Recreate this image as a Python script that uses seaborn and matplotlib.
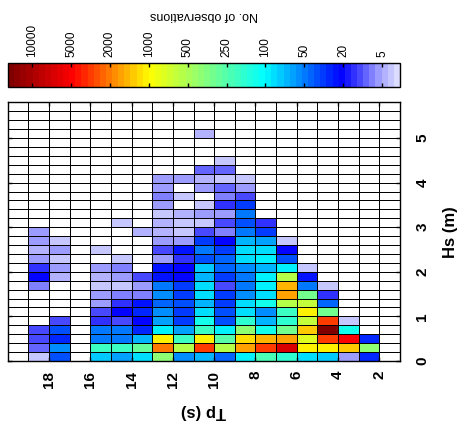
import numpy as np
import pandas as pd
import matplotlib
matplotlib.use("Agg")
import matplotlib.pyplot as plt
import seaborn as sns
from matplotlib.colors import LinearSegmentedColormap

# ---------------- data ----------------
# Tp bins (lower edge, s), left to right as drawn
tp_lower = [19, 18, 17, 16, 15, 14, 13, 12, 11, 10, 9, 8, 7, 6, 5, 4, 3, 2, 1]
# Hs bins (lower edge, m), bottom to top
hs_lower = [0.0, 0.2, 0.4, 0.6, 0.8, 1.0, 1.2, 1.4, 1.6, 1.8, 2.0, 2.2, 2.4, 2.6,
            2.8, 3.0, 3.2, 3.4, 3.6, 3.8, 4.0, 4.2, 4.4, 4.6, 4.8, 5.0, 5.2, 5.4, 5.6]

# number of observations per Tp bin, listed from Hs = 0 upward (missing = 0)
c_tp19 = []
c_tp18 = [4, 8, 10, 10, 0, 0, 0, 0, 7, 20, 14, 6, 5, 6, 6]
c_tp17 = [38, 58, 27, 38, 10, 0, 0, 0, 0, 5, 6, 4, 6, 4]
c_tp16 = []
c_tp15 = [80, 200, 50, 50, 14, 10, 6, 6, 4, 5, 6, 2, 4, 2]
c_tp14 = [63, 200, 50, 50, 10, 20, 14, 7, 4, 6, 7, 4, 2, 0, 2, 4]
c_tp13 = [85, 270, 70, 27, 20, 27, 24, 7, 6, 10, 0, 2, 2, 0, 5, 2]
c_tp12 = [400, 2000, 1000, 100, 63, 56, 42, 56, 50, 24, 24, 6, 10, 6, 5, 5,
          4, 6, 7, 6, 6, 2, 0, 0, 2, 2, 0, 0, 2]
c_tp11 = [56, 550, 200, 63, 34, 30, 38, 34, 34, 20, 20, 14, 24, 6, 4, 4,
          5, 2, 4, 0, 6, 2, 0, 2]
c_tp10 = [70, 3200, 1000, 200, 130, 85, 70, 85, 85, 70, 78, 38, 50, 30, 10, 4,
          6, 4, 2, 6, 5, 8, 2, 2, 0, 5]
c_tp9 = [42, 550, 260, 100, 38, 38, 30, 30, 10, 30, 42, 42, 34, 20, 7, 10,
         6, 14, 7, 8, 4, 8, 4, 2]
c_tp8 = [100, 1700, 1200, 400, 160, 85, 85, 56, 50, 50, 56, 85, 85, 70, 50, 38,
         50, 30, 11, 6, 4]
c_tp7 = [210, 3200, 1450, 130, 70, 56, 130, 85, 100, 100, 70, 100, 85, 63, 30, 14, 2, 2]
c_tp6 = [160, 6500, 1700, 320, 160, 200, 550, 1700, 1450, 520, 100, 38, 20, 4, 2, 2]
c_tp5 = [85, 1000, 750, 1350, 600, 1000, 600, 320, 50, 24, 4]
c_tp4 = [78, 1000, 3300, 14000, 3200, 330, 42, 14, 4]
c_tp3 = [6, 1350, 5000, 130, 4, 2]
c_tp2 = [27, 400, 27]
c_tp1 = []

columns = [c_tp19, c_tp18, c_tp17, c_tp16, c_tp15, c_tp14, c_tp13, c_tp12, c_tp11,
           c_tp10, c_tp9, c_tp8, c_tp7, c_tp6, c_tp5, c_tp4, c_tp3, c_tp2, c_tp1]

cbar_values = [5, 20, 50, 100, 250, 500, 1000, 2000, 5000, 10000]
cbar_labels = ["5", "20", "50", "100", "250", "500", "1000", "2000", "5000", "10000"]
tp_ticks = [18, 16, 14, 12, 10, 8, 6, 4, 2]
hs_ticks = [0, 1, 2, 3, 4, 5]

# ---------------- build table ----------------
n_hs, n_tp = len(hs_lower), len(tp_lower)
counts = np.zeros((n_hs, n_tp))
for j, col in enumerate(columns):
    counts[:len(col), j] = col

lv = np.log(np.array(cbar_values, dtype=float))
levels = np.arange(len(cbar_values), dtype=float)


def to_level(c):
    out = np.full(c.shape, -99.0)
    pos = c > 0
    lc = np.log(c[pos])
    q = np.interp(lc, lv, levels)
    lo = lc < lv[0]
    q[lo] = (lc[lo] - lv[0]) / (lv[1] - lv[0])
    hi = lc > lv[-1]
    q[hi] = levels[-1] + (lc[hi] - lv[-1]) / (lv[-1] - lv[-2])
    out[pos] = q
    return out


q = to_level(counts)
hs_w = hs_lower[1] - hs_lower[0]
df = pd.DataFrame(q[::-1], index=[f"{h:.1f}" for h in hs_lower[::-1]],
                  columns=[str(t) for t in tp_lower])

qmin, qmax = -0.46, 9.62
anchors = [(-0.46, "#dcdcff"), (0.0, "#a0a0ff"), (0.5, "#4848ff"), (1.0, "#0000ff"),
           (2.0, "#0080ff"), (3.0, "#00ffff"), (4.5, "#80ff80"), (6.0, "#ffff00"),
           (7.0, "#ff8000"), (8.0, "#ff0000"), (9.0, "#b00000"), (9.62, "#800000")]
cmap = LinearSegmentedColormap.from_list(
    "obs", [((a - qmin) / (qmax - qmin), c) for a, c in anchors], N=64)
cmap.set_under("white")

# ---------------- figure ----------------
plt.rcParams["font.family"] = ["Liberation Sans", "DejaVu Sans"]
fig = plt.figure(figsize=(4.57, 4.32), dpi=100)
W, H = 457.0, 432.0
ax = fig.add_axes([7.7 / W, 1 - 361.0 / H, 392.3 / W, 258.7 / H])
cax = fig.add_axes([8.0 / W, 1 - 86.7 / H, 392.0 / W, 24.0 / H])

sns.heatmap(df, ax=ax, cbar_ax=cax, cmap=cmap, vmin=qmin, vmax=qmax,
            linewidths=0.55, linecolor="black", xticklabels=False, yticklabels=False,
            cbar_kws={"orientation": "horizontal"})

for s in ax.spines.values():
    s.set_visible(True)
    s.set_linewidth(1.0)
    s.set_color("black")

tp_top = tp_lower[0] + 1
hs_top = hs_lower[-1] + hs_w
ax.set_xticks([tp_top - t for t in tp_ticks])
ax.set_xticklabels([str(t) for t in tp_ticks], rotation=90, fontsize=11,
                   fontweight="bold")
ax.set_yticks([(hs_top - h) / hs_w for h in hs_ticks])
ax.yaxis.tick_right()
ax.set_yticklabels([str(h) for h in hs_ticks], rotation=90, va="center",
                   fontsize=11, fontweight="bold")
ax.tick_params(axis="x", direction="in", length=3, width=1, top=True, bottom=True,
               pad=7)
ax.tick_params(axis="y", direction="in", length=3, width=1, left=True, right=True,
               labelleft=False, labelright=True, pad=11)
ax.set_xlabel("Tp (s)", rotation=180, fontsize=12, fontweight="bold", labelpad=12)
ax.yaxis.set_label_position("right")
ax.set_ylabel("Hs (m)", rotation=90, fontsize=12, fontweight="bold", labelpad=10)

cbar = ax.collections[0].colorbar
cbar.set_ticks(levels)
cbar.set_ticklabels(cbar_labels)
cbar.outline.set_linewidth(1.0)
cbar.outline.set_edgecolor("black")
cax.invert_xaxis()
cax.tick_params(axis="x", direction="in", length=3, width=1, top=True, bottom=True,
                labeltop=True, labelbottom=False, labelrotation=90, labelsize=8.5,
                pad=4)
cax.xaxis.set_label_position("top")
cax.set_xlabel("No. of observations", rotation=180, fontsize=9, labelpad=4)

fig.savefig("out.png", dpi=100)
